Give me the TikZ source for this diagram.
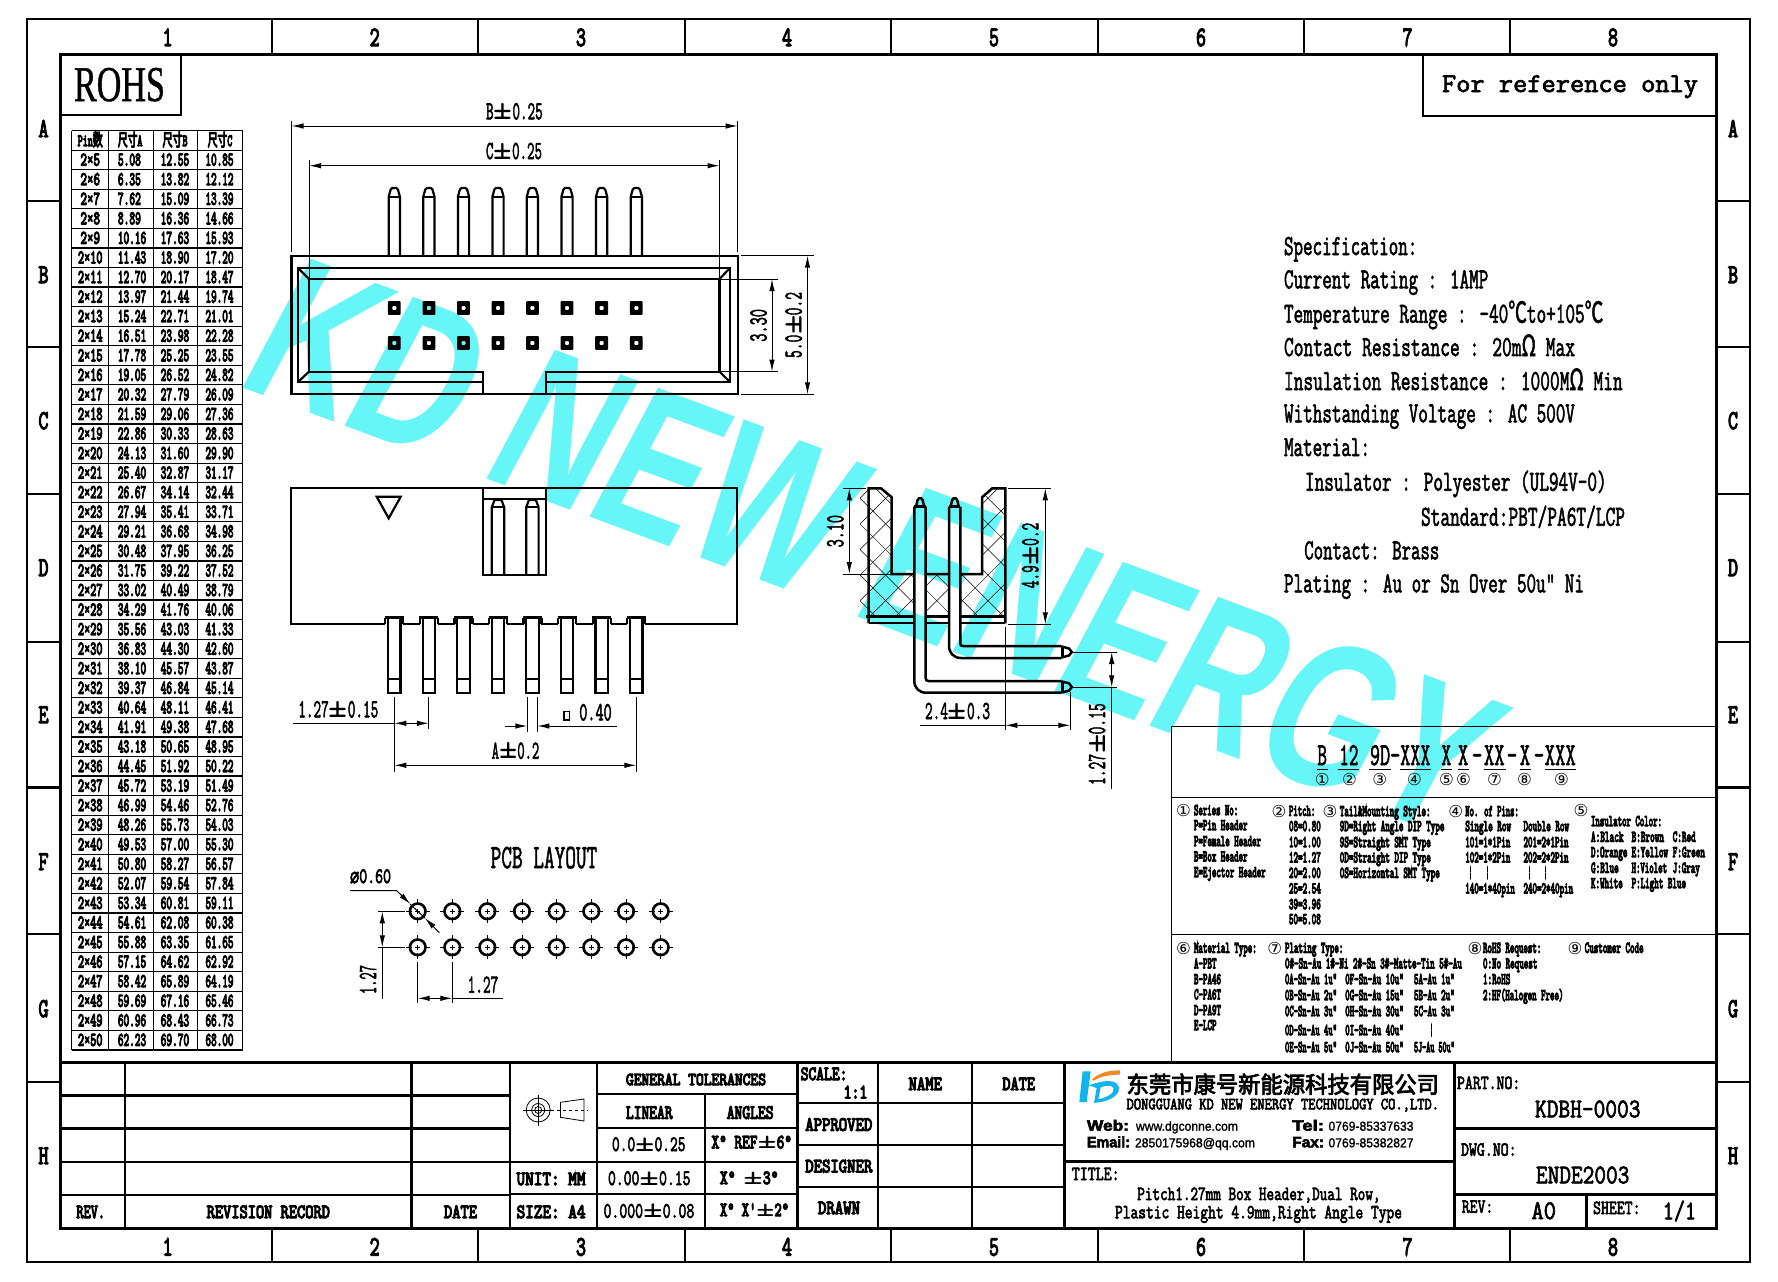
\documentclass[tikz,border=0pt]{standalone}
\usepackage{fontspec}
\usepackage{graphicx}
\usetikzlibrary{arrows.meta}
\newfontfamily\cad{Latin Modern Mono}
\newfontfamily\rom{Liberation Serif}
\newfontfamily\san{Liberation Sans}
\newfontfamily\dejavu{DejaVu Sans}
\newfontfamily\cjk{Noto Sans CJK SC}
\definecolor{wm}{HTML}{66F6F8}
\definecolor{logob}{HTML}{12B4F0}
\definecolor{logoo}{HTML}{F08A24}
\newcommand\PM{\special{pdf:code 0 Tr}\scalebox{2.5}[1.4]{±}\special{pdf:code 2 Tr}}
\newcount\tno
% rotation, x, y (baseline start), width, size, font, stroke, text
\newcommand{\Put}[8]{\global\advance\tno by 1\relax
  \node[txt,rotate=#1] (t\the\tno) at (#2,#3)
    {#6\fontsize{#5}{#5}\selectfont\resizebox{#4pt}{\height}{\special{pdf:code 2 Tr #7 w}#8}};}
\newcommand{\Tx}[5]{\Put{0}{#1}{#2}{#3}{#4}{\cad}{0.7}{#5}}
\newcommand{\Tb}[5]{\Put{0}{#1}{#2}{#3}{#4}{\cad}{1.3}{#5}}
\newcommand{\Ts}[5]{\Put{0}{#1}{#2}{#3}{#4}{\san\bfseries}{0.5}{#5}}
\newcommand{\Tn}[5]{\Put{0}{#1}{#2}{#3}{#4}{\san}{0.2}{#5}}
\newcommand{\Tr}[5]{\Put{90}{#1}{#2}{#3}{#4}{\cad}{0.7}{#5}}
\newcommand{\Cn}[3]{\global\advance\tno by 1\relax
  \node[inner sep=0pt] (t\the\tno) at (#1,#2) {\dejavu\fontsize{16.5}{16.5}\selectfont #3};}
\newcommand\fmt[1]{\number\numexpr(#1-50)/100\relax.\ifnum\numexpr #1-100*((#1-50)/100)\relax<10 0\fi\number\numexpr #1-100*((#1-50)/100)\relax}
\tikzset{
  txt/.style={anchor=base west,inner sep=0pt,outer sep=0pt},
  thk/.style={line width=3pt},
  med/.style={line width=2.2pt},
  thn/.style={line width=1.2pt},
  dim/.style={line width=1pt},
  dimb/.style={dim,{Latex[length=12pt,width=5.5pt]}-{Latex[length=12pt,width=5.5pt]}},
  dimr/.style={dim,-{Latex[length=12pt,width=5.5pt]}},
}
\def\pinxs{394.3,428.9,463.5,498,532.4,567,601.6,636.3}
\def\holexs{417.7,452.3,487.3,522,556.7,591.3,626,660.7}
\begin{document}
\begin{tikzpicture}[x=1pt,y=-1pt]
\useasboundingbox (0,0) rectangle (1778,1282);
\fill[white] (0,0) rectangle (1778,1282);
% watermark
\begin{scope}[cm={0.71,-0.265,0.497,0.936,(233.4,384)}]
\node[transform shape,txt,text=wm] (watermark) at (0,0) {\san\bfseries\fontsize{200}{200}\selectfont KD NEW ENERGY};
\end{scope}
% frames
\draw[line width=2.5pt] (27,19) rectangle (1750,1262);
\draw[thk] (60.5,54) rectangle (1716,1228);
\foreach \x in {272,478,685,891,1098,1304,1510} {
  \draw[med] (\x,19)--(\x,54);
  \draw[med] (\x,1228)--(\x,1262);
}
\foreach \y in {201,347,494,642,787.5,934,1082} {
  \draw[med] (27,\y)--(60.5,\y);
  \draw[med] (1716,\y)--(1750,\y);
}
\foreach \n/\x in {1/167.6,2/374.7,3/581,4/787,5/994,6/1201,7/1407.5,8/1613} {
  \Tb{\x-5}{46}{10}{28}{\n}
  \Tb{\x-5}{1255.5}{10}{28}{\n}
}
\foreach \c/\y in {A/129,B/275,C/421,D/568,E/715,F/862,G/1009,H/1156} {
  \Tb{38.5}{\y+8}{10}{27}{\c}
  \Tb{1728}{\y+8}{10}{27}{\c}
}
% ROHS and reference
\draw[med] (60.5,54) rectangle (181,115);
\Put{0}{74}{101}{91}{50}{\rom}{0.5}{ROHS}
\draw[med] (1423,54) rectangle (1716,116);
\Tx{1442}{92}{256}{27}{For reference only}
% pin table
\foreach \x in {71.6,108.7,153.5,197.5,242.6} \draw[thn] (\x,130.6)--(\x,1050);
\foreach \i in {0,...,47} \draw[thn] (71.6,{130.6+19.56*\i})--(242.6,{130.6+19.56*\i});
\Tb{77.7}{146}{25}{17}{Pin{\cjk 数}}
\Tb{117.9}{146}{24.5}{17}{{\cjk 尺寸}A}
\Tb{162.6}{146}{25}{17}{{\cjk 尺寸}B}
\Tb{207.8}{146}{24.5}{17}{{\cjk 尺寸}C}
\foreach \n [count=\i from 0] in {5,...,50} {
  \pgfmathsetmacro\yb{165.5+19.56*\i}
  \pgfmathtruncatemacro\aa{127*(\n-1)}
  \pgfmathtruncatemacro\bb{\aa+747}
  \pgfmathtruncatemacro\cc{\aa+577}
  \ifnum\n<10
    \Tb{80.5}{\yb}{19.5}{19}{2×\n}
  \else
    \Tb{78}{\yb}{24.5}{19}{2×\n}
  \fi
  \ifnum\aa<1000
    \Tb{117.9}{\yb}{23}{19}{\fmt{\aa}}
  \else
    \Tb{117.9}{\yb}{28.3}{19}{\fmt{\aa}}
  \fi
  \Tb{160.7}{\yb}{28.5}{19}{\fmt{\bb}}
  \Tb{205.5}{\yb}{28}{19}{\fmt{\cc}}
}
% top view
\draw[med] (291.5,255.7) rectangle (737.6,394.3);
\draw[med] (483,394.3)--(483,371.7)--(309,371.7)--(309,279)--(719.5,279)--(719.5,371.7)--(545.6,371.7)--(545.6,394.3);
\draw[med] (483,382)--(298,382)--(298,268)--(730,268)--(730,382)--(545.6,382);
\draw[med] (298,268)--(309,279) (730,268)--(719.5,279) (298,382)--(309,371.7) (730,382)--(719.5,371.7);
\foreach \c in \pinxs {
  \draw[med] (\c-5.6,255.7)--(\c-5.6,196.7)--(\c-3.6,189.5)--(\c-2,188)--(\c+2,188)--(\c+3.6,189.5)--(\c+5.6,196.7)--(\c+5.6,255.7);
  \draw[med] (\c-5.6,197)--(\c+5.6,197);
  \foreach \yy in {308,343}
    \fill[even odd rule,rounded corners=0.8pt] (\c-6.4,\yy-6.8) rectangle (\c+6.4,\yy+6.8) (\c-2,\yy-2) rectangle (\c+2,\yy+2);
}
% top view dimensions
\draw[dimb] (291.5,126)--(737.6,126);
\draw[dim] (291.5,121)--(291.5,252) (737.6,121)--(737.6,252);
\draw[dimb] (309,165.7)--(719.5,165.7);
\draw[dim] (309,160)--(309,280) (719.5,160)--(719.5,280);
\Tx{486}{119.3}{56.7}{26}{B\PM0.25}
\Tx{486}{159}{56}{26}{C\PM0.25}
\draw[dim] (719.5,279)--(777.6,279) (719.5,371.7)--(777.6,371.7);
\draw[dimb] (772,279)--(772,371.7);
\draw[dim] (740.6,255.7)--(814,255.7) (740.6,394.3)--(814,394.3);
\draw[dimb] (807.5,255.7)--(807.5,394.3);
\Tr{766.5}{341.7}{32.7}{26}{3.30}
\Tr{801.6}{358}{66}{26}{5.0\PM0.2}
% front view
\draw[med] (645.3,623.7)--(737.3,623.7)--(737.3,488.3)--(291,488.3)--(291,623.7)--(385.3,623.7);
\foreach \c in {394.3,428.9,463.5,498,532.4,567,601.6} {
  \draw[med] (\c+9,623.7)--(\c+25.6,623.7);
}
\foreach \c in \pinxs {
  \draw[med] (\c-9,623.7)--(\c-9,617.6);
  \draw[med] (\c+9,623.7)--(\c+9,617.6);
  \draw[line width=3pt] (\c-9.5,617.7)--(\c+9.5,617.7);
  \draw[med] (\c-6.2,617)--(\c-6.2,692.7)--(\c+6.2,692.7)--(\c+6.2,617);
  \draw[thn] (\c-6.2,679)--(\c+6.2,679);
}
\draw[med] (376.7,496.7)--(400.7,496.7)--(388.7,518.3)--cycle;
\draw[med] (483,488.3)--(483,575)--(546.3,575)--(546.3,488.3);
\draw[med] (483,499.3)--(546.3,499.3);
\foreach \c in {498,532.4} {
  \draw[med] (\c-6.2,575)--(\c-6.2,507.3)--(\c-3.5,500)--(\c+3.5,500)--(\c+6.2,507.3)--(\c+6.2,575);
  \draw[med] (\c-6.2,507.3)--(\c+6.2,507.3);
}
% front view dimensions
\draw[dim] (394.3,696.7)--(394.3,771.7) (428.9,696.7)--(428.9,729);
\draw[dim] (293.3,723.3)--(394.3,723.3);
\draw[dimb] (394.3,723.3)--(428.9,723.3);
\Tx{298.3}{717.3}{80}{26}{1.27\PM0.15}
\draw[dim] (527.3,696.7)--(527.3,731.7) (537.3,696.7)--(537.3,731.7);
\draw[dimr] (505,726)--(527.3,726);
\draw[dimr] (616.7,726)--(537.3,726);
\draw[line width=1.5pt] (564,711.7) rectangle (569.3,720);
\Tx{579.3}{720.3}{32.4}{26}{0.40}
\draw[dimb] (394.3,765.3)--(636.3,765.3);
\draw[dim] (636.3,696.7)--(636.3,771.7);
\Tx{491.7}{758.7}{47.6}{26}{A\PM0.2}
% PCB layout
\Tx{490.7}{868}{106.6}{34}{PCB LAYOUT}
\foreach \c [count=\j] in \holexs {
  \foreach \yy in {911.3,947.3} {
    \draw[line width=2.6pt] (\c,\yy) circle (7.8);
    \draw[line width=0.8pt] (\c-12,\yy)--(\c-6,\yy) (\c+6,\yy)--(\c+12,\yy) (\c,\yy-12)--(\c,\yy-6) (\c,\yy+6)--(\c,\yy+12);
    \draw[line width=0.6pt] (\c-2.5,\yy)--(\c+2.5,\yy) (\c,\yy-2.5)--(\c,\yy+2.5);
  }
}
\Put{0}{350}{883}{41}{22}{\cad}{0.8}{{\dejavu ⌀}0.60}
\draw[dimr] (350,890.7)--(396.7,890.7)--(410.3,904);
\draw[dim] (410,904)--(425,918);
\draw[dimr] (439.3,932.7)--(425,918);
\draw[dim] (377.7,911.3)--(405,911.3) (377.7,947.3)--(405,947.3);
\draw[dim] (382.3,947.3)--(382.3,999.3);
\draw[dimb] (382.3,911.3)--(382.3,947.3);
\Tr{376}{994}{29}{26}{1.27}
\draw[dim] (417.7,962.3)--(417.7,1003.3) (452.3,962.3)--(452.3,1003.3);
\draw[dimb] (417.7,998.3)--(452.3,998.3);
\draw[dim] (452.3,998.3)--(503.3,998.3);
\Tx{467.7}{992.7}{30.6}{26}{1.27}
% side view hatch
\begin{scope}
\clip (860,488.3)--(881,488.3)--(891.7,497.3)--(891.7,574)--(914.3,574)--(914.3,616.7)--(860,616.7)--cycle;
\foreach \k in {-8,...,12} \draw[line width=0.5pt] (860,498.3+25.6*\k)--++(200,200) (860,498.3+25.6*\k)--++(200,-200);
\end{scope}
\begin{scope}
\clip (925.7,574) rectangle (949,616.7);
\foreach \k in {-8,...,12} \draw[line width=0.5pt] (860,498.3+25.6*\k)--++(200,200) (860,498.3+25.6*\k)--++(200,-200);
\end{scope}
\begin{scope}
\clip (960.3,574)--(982,574)--(982,497.3)--(992.3,488.3)--(1005.3,488.3)--(1005.3,616.7)--(960.3,616.7)--cycle;
\foreach \k in {-8,...,12} \draw[line width=0.5pt] (860,498.3+25.6*\k)--++(200,200) (860,498.3+25.6*\k)--++(200,-200);
\end{scope}
% side view housing
\draw[line width=2.5pt] (868.7,623.3)--(868.7,488.3)--(881,488.3)--(891.7,497.3)--(891.7,574)--(914.3,574);
\draw[line width=2.5pt] (925.7,574)--(949,574) (960.3,574)--(982,574)--(982,497.3)--(992.3,488.3)--(1005.3,488.3)--(1005.3,623.3);
\draw[line width=2.5pt] (866,616.7)--(914.3,616.7) (925.7,616.7)--(949,616.7) (960.3,616.7)--(1005.3,616.7);
\draw[line width=2pt] (868.7,623.3)--(914.3,623.3) (925.7,623.3)--(949,623.3) (960.3,623.3)--(1005.3,623.3);
% side view pins
\draw[line width=2.5pt] (914.3,506.7)--(914.3,680.7) .. controls (914.3,688) and (919,692.7) .. (926.3,692.7)--(1061.7,692.7);
\draw[line width=2.5pt] (925.7,506.7)--(925.7,678) .. controls (925.7,680) and (926.5,681) .. (928.5,681)--(1061.7,681);
\draw[line width=2.5pt] (914.3,506.7)--(925.7,506.7);
\draw[line width=2.5pt] (916,506.7)--(917.6,500)--(919,498.3)--(921.2,498.3)--(922.6,500)--(924.2,506.7);
\draw[line width=2.5pt] (949,506.7)--(949,645.7) .. controls (949,653) and (953.7,658) .. (961,658)--(1061.7,658);
\draw[line width=2.5pt] (960.3,506.7)--(960.3,643.5) .. controls (960.3,645) and (961,646) .. (963,646)--(1061.7,646);
\draw[line width=2.5pt] (949,506.7)--(960.3,506.7);
\draw[line width=2.5pt] (950.6,506.7)--(952.2,500)--(953.6,498.3)--(955.8,498.3)--(957.2,500)--(958.8,506.7);
\draw[line width=2.5pt] (1062.5,646)--(1062.5,658);
\draw[line width=2.5pt] (1061.7,646.5)--(1069,648.5)--(1071.8,652)--(1069,655.5)--(1061.7,657.5);
\draw[line width=2.5pt] (1062.5,681)--(1062.5,692.7);
\draw[line width=2.5pt] (1061.7,681.5)--(1069,683.3)--(1071.8,687)--(1069,690.7)--(1061.7,692.5);
% side view dimensions
\draw[dim] (843,488.3)--(866,488.3) (843,574)--(891,574);
\draw[dimb] (849.3,488.3)--(849.3,574);
\Tr{843.3}{547.3}{32.3}{26}{3.10}
\draw[dim] (1008,488.3)--(1050.7,488.3) (1008,624.3)--(1050.7,624.3);
\draw[dimb] (1045.3,488.3)--(1045.3,624.3);
\Tr{1038.3}{588.3}{65.6}{26}{4.9\PM0.2}
\draw[dim] (1005.3,626.7)--(1005.3,730) (1070.3,691.7)--(1070.3,730);
\draw[dim] (920,725.3)--(1005.3,725.3);
\draw[dimb] (1005.3,725.3)--(1070.3,725.3);
\Tx{925}{719}{65}{26}{2.4\PM0.3}
\draw[dim] (1073.3,652)--(1116.7,652) (1073.3,687.3)--(1116.7,687.3);
\draw[dimb] (1111.7,652)--(1111.7,687.3);
\draw[dim] (1111.7,687.3)--(1111.7,789.3);
\Tr{1105}{785}{81.7}{26}{1.27\PM0.15}
% specification
\Tx{1284}{255}{133.3}{29}{Specification:}
\Tx{1284}{288.3}{204.3}{29}{Current Rating : 1AMP}
\Tx{1284}{322.7}{319.3}{29}{Temperature Range : -40{\cjk ℃}to+105{\cjk ℃}}
\Tx{1284}{356}{291}{29}{Contact Resistance : 20m{\cjk Ω} Max}
\Tx{1284}{390}{338.7}{29}{Insulation Resistance : 1000M{\cjk Ω} Min}
\Tx{1284}{422.3}{291}{29}{Withstanding Voltage : AC 500V}
\Tx{1284}{456}{86}{29}{Material:}
\Tx{1305}{490.7}{301.7}{29}{Insulator : Polyester (UL94V-0)}
\Tx{1421}{525.7}{204}{29}{Standard:PBT/PA6T/LCP}
\Tx{1304.3}{559.3}{135}{29}{Contact: Brass}
\Tx{1284}{592.3}{300}{29}{Plating : Au or Sn Over 50u" Ni}
% ordering panel
\draw[thn] (1716,726.7)--(1171.5,726.7)--(1171.5,1062);
\draw[thn] (1171.5,797.3)--(1716,797.3) (1171.5,934.3)--(1716,934.3);
\Tx{1317.3}{765}{9.7}{32}{B}
\Tx{1339.4}{765}{19}{32}{12}
\Tx{1370}{765}{60.5}{32}{9D-XXX}
\Tx{1441.3}{765}{10}{32}{X}
\Tx{1458}{765}{117.8}{32}{X\kern5.8pt-\kern2.6pt XX\kern3.5pt-\kern4.2pt X\kern5.8pt-\kern1pt XXX}
\foreach \a/\b in {1316.5/1327.8,1338/1358.8,1369/1391,1399.8/1430.5,1441/1451.5,1457.5/1468.5,1484/1505.5,1519.5/1531,1545/1576}
  \draw[line width=0.9pt] (\a,769)--(\b,769);
\Cn{1322.3}{779.5}{①}\Cn{1349.5}{779.5}{②}\Cn{1379.7}{779.5}{③}\Cn{1414.6}{779.5}{④}\Cn{1446.4}{779.5}{⑤}\Cn{1463.4}{779.5}{⑥}\Cn{1494.4}{779.5}{⑦}\Cn{1524.6}{779.5}{⑧}\Cn{1561.5}{779.5}{⑨}
% column 3
\Cn{1330}{811}{③}
\Tb{1339.8}{816}{90.7}{16}{Tail\&Mounting Style:}
\Tb{1339.8}{831}{104.6}{16}{9D=Right Angle DIP Type}
\Tb{1339.8}{847}{91}{16}{9S=Straight SMT Type}
\Tb{1339.8}{862.3}{91}{16}{0D=Straight DIP Type}
\Tb{1339.8}{877.7}{100}{16}{0S=Horizontal SMT Type}
% column 4
\Cn{1455.7}{811}{④}
\Tb{1465.3}{816}{53.5}{16}{No. of Pins:}
\Tb{1465.3}{831}{45.7}{16}{Single Row}
\Tb{1523.5}{831}{45.5}{16}{Double Row}
\Tb{1465.3}{847}{45}{16}{101=1*1Pin}
\Tb{1523.5}{847}{45}{16}{201=2*1Pin}
\Tb{1465.3}{862.3}{45}{16}{102=1*2Pin}
\Tb{1523.5}{862.3}{45}{16}{202=2*2Pin}
\Tb{1469}{877.7}{3}{16}{¦}
\Tb{1486}{877.7}{3}{16}{¦}
\Tb{1528}{877.7}{3}{16}{¦}
\Tb{1544}{877.7}{3}{16}{¦}
\Tb{1465.3}{893.3}{49.6}{16}{140=1*40pin}
\Tb{1523.5}{893.3}{49.6}{16}{240=2*40pin}
% column 5
\Cn{1580.9}{810.7}{⑤}
\Tb{1591}{826}{71}{16}{Insulator Color:}
\Tb{1591}{841.7}{32.5}{16}{A:Black}
\Tb{1631.6}{841.7}{32.4}{16}{B:Brown}
\Tb{1672.7}{841.7}{23}{16}{C:Red}
\Tb{1591}{857}{36.4}{16}{D:Orange}
\Tb{1631.6}{857}{36.4}{16}{E:Yellow}
\Tb{1672.7}{857}{32.3}{16}{F:Green}
\Tb{1591}{872.7}{27.7}{16}{G:Blue}
\Tb{1631.6}{872.7}{35.4}{16}{H:Violet}
\Tb{1672.7}{872.7}{27.1}{16}{J:Gray}
\Tb{1591}{888}{31.7}{16}{K:White}
\Tb{1631.6}{888}{54.4}{16}{P:Light Blue}
% column 1
\Cn{1183.5}{810}{①}
\Tb{1194}{815}{44.2}{16}{Series No:}
\Tb{1194}{830}{53.5}{16}{P=Pin Header}
\Tb{1194}{846}{67}{16}{P=Female Header}
\Tb{1194}{861.3}{53.5}{16}{B=Box Header}
\Tb{1194}{877}{71.7}{16}{E=Ejector Header}
% column 2
\Cn{1279}{811}{②}
\Tb{1289}{815.7}{26.3}{16}{Pitch:}
\Tb{1289}{831}{31.8}{16}{08=0.80}
\Tb{1289}{847}{31.8}{16}{10=1.00}
\Tb{1289}{862.3}{31.8}{16}{12=1.27}
\Tb{1289}{877.7}{31.8}{16}{20=2.00}
\Tb{1289}{893.3}{31.8}{16}{25=2.54}
\Tb{1289}{909}{31.8}{16}{39=3.96}
\Tb{1289}{924}{31.8}{16}{50=5.08}
% row 2
\Cn{1183.5}{948}{⑥}
\Tb{1194}{952.7}{62.8}{16}{Material Type:}
\Tb{1194}{968.3}{22.5}{16}{A-PBT}
\Tb{1194}{984}{27}{16}{B-PA46}
\Tb{1194}{999.3}{27}{16}{C-PA6T}
\Tb{1194}{1015}{27}{16}{D-PA9T}
\Tb{1194}{1030}{22.5}{16}{E-LCP}
\Cn{1274.7}{948}{⑦}
\Tb{1285}{952.7}{58.3}{16}{Plating Type:}
\Tb{1285}{968.3}{176.9}{16}{0\#-Sn-Au 1\#-Ni 2\#-Sn 3\#-Matte-Tin 5\#-Au}
\Tb{1285}{984}{52}{16}{0A-Sn-Au 1u"}
\Tb{1345.2}{984}{58.5}{16}{0F-Sn-Au 10u"}
\Tb{1414}{984}{40.7}{16}{5A-Au 1u"}
\Tb{1285}{1000}{52}{16}{0B-Sn-Au 2u"}
\Tb{1345.2}{1000}{58.5}{16}{0G-Sn-Au 15u"}
\Tb{1414}{1000}{40.7}{16}{5B-Au 2u"}
\Tb{1285}{1016}{52}{16}{0C-Sn-Au 3u"}
\Tb{1345.2}{1016}{58.5}{16}{0H-Sn-Au 30u"}
\Tb{1414}{1016}{40.7}{16}{5C-Au 3u"}
\Tb{1285}{1035}{52}{16}{0D-Sn-Au 4u"}
\Tb{1345.2}{1035}{58.5}{16}{0I-Sn-Au 40u"}
\Tb{1430}{1035}{3}{16}{¦}
\Tb{1285}{1052}{52}{16}{0E-Sn-Au 5u"}
\Tb{1345.2}{1052}{58.5}{16}{0J-Sn-Au 50u"}
\Tb{1414}{1052}{40.7}{16}{5J-Au 50u"}
\Cn{1475}{948}{⑧}
\Tb{1483}{952.7}{58.3}{16}{RoHS Request:}
\Tb{1483}{968.3}{54.4}{16}{0:No Request}
\Tb{1483}{984}{27.3}{16}{1:RoHS}
\Tb{1483}{1000}{80.4}{16}{2:HF(Halogen Free)}
\Cn{1575}{948}{⑨}
\Tb{1584.7}{952.7}{58.9}{16}{Customer Code}
% title block: revision table
\draw[thk] (60.5,1062)--(1716,1062);
\draw[med] (125,1062)--(125,1228) (411.4,1062)--(411.4,1228) (509.8,1062)--(509.8,1228);
\draw[thk] (60.5,1095)--(509.8,1095) (60.5,1128.5)--(509.8,1128.5);
\draw[med] (60.5,1162)--(509.8,1162) (60.5,1195.3)--(509.8,1195.3);
\Tb{76.5}{1218}{28.5}{20}{REV.}
\Tb{206.7}{1218}{123.2}{20}{REVISION RECORD}
\Tb{444}{1218}{33}{20}{DATE}
\draw[med] (596.7,1062)--(596.7,1228);
\draw[med] (509.8,1161.7)--(797,1161.7) (509.8,1194.3)--(797,1194.3);
\draw[med] (596.7,1094.3)--(797,1094.3) (596.7,1128.3)--(797,1128.3);
\draw[med] (705,1094.3)--(705,1228);
\draw[thk] (797,1062)--(797,1228);
% third angle symbol
\draw[line width=0.8pt] (538.2,1110) circle (12) (538.2,1110) circle (6.5) (538.2,1110) circle (3.5);
\draw[line width=0.8pt] (522.5,1110)--(553.5,1110) (538.2,1094.5)--(538.2,1125.5);
\draw[line width=0.8pt] (560.4,1102.3)--(584,1099)--(584,1121)--(560.4,1117.3)--cycle;
\draw[line width=0.8pt,dashed] (556.5,1110)--(587,1110);
\Tb{516.6}{1185}{68.9}{20}{UNIT: MM}
\Tb{516.6}{1218}{68.9}{20}{SIZE: A4}
\Tb{626}{1085}{140}{18}{GENERAL TOLERANCES}
\Tb{626}{1118.7}{46.5}{20}{LINEAR}
\Tb{726.8}{1118.7}{46.7}{20}{ANGLES}
\Tx{612}{1151}{73.5}{22}{0.0\PM0.25}
\Tb{711.5}{1148.3}{80.5}{20}{X° REF\PM6°}
\Tx{608}{1185}{82.5}{22}{0.00\PM0.15}
\Tb{720}{1184}{58.5}{20}{X° \PM3°}
\Tx{603.6}{1217.7}{90.7}{22}{0.000\PM0.08}
\Tb{720}{1216}{69}{20}{X° X'\PM2°}
% approval
\draw[med] (878,1062)--(878,1228) (972,1062)--(972,1228);
\draw[med] (797,1103.3)--(1064.4,1103.3) (797,1145)--(1064.4,1145) (797,1186.7)--(1064.4,1186.7);
\draw[thk] (1064.7,1062)--(1064.7,1228);
\Tb{800.7}{1080}{46.7}{20}{SCALE:}
\Tb{843.6}{1098.3}{23.7}{20}{1:1}
\Tb{908.6}{1090}{33.4}{20}{NAME}
\Tb{1002.4}{1090}{32.6}{20}{DATE}
\Tb{805.3}{1130.7}{67}{20}{APPROVED}
\Tb{805.3}{1172.3}{67}{20}{DESIGNER}
\Tb{818}{1214}{42}{20}{DRAWN}
% company
\draw[thk] (1454.8,1062)--(1454.8,1228);
\draw[thk] (1064.7,1161.7)--(1454.8,1161.7);
\draw[thk] (1454.8,1128.3)--(1716,1128.3) (1454.8,1194.3)--(1716,1194.3);
\draw[thk] (1586,1194.3)--(1586,1228);
\begin{scope}[shift={(1070,1062)},x=0.3333pt,y=-0.3333pt]
\fill[logob] (38,28)--(62,28)--(50,120)--(28,120)--cycle;
\fill[logoo] (66,52) .. controls (90,30) and (120,25) .. (150,25)--(150,38) .. controls (120,38) and (95,42) .. (72,56)--cycle;
\fill[logob,even odd rule] (56,70) .. controls (85,60) and (110,55) .. (125,58) .. controls (150,63) and (155,85) .. (135,102) .. controls (115,118) and (95,120) .. (72,123)--(80,78)--cycle
 (92,76)--(85,112) .. controls (115,105) and (135,92) .. (130,78) .. controls (124,68) and (108,70) .. (92,76)--cycle;
\end{scope}
\Put{0}{1126.6}{1093}{312.4}{23}{\cjk}{0.8}{东莞市康号新能源科技有限公司}
\Tx{1126.6}{1109.3}{312.4}{17}{DONGGUANG KD NEW ENERGY TECHNOLOGY CO.,LTD.}
\Ts{1087}{1130.7}{42}{15}{Web:}
\Tn{1136}{1130.7}{102}{13}{www.dgconne.com}
\Ts{1292.3}{1130.7}{31.7}{15}{Tel:}
\Tn{1328.5}{1130.7}{85}{13}{0769-85337633}
\Ts{1087}{1147.3}{43}{15}{Email:}
\Tn{1135}{1147.3}{120}{13}{2850175968@qq.com}
\Ts{1292.3}{1147.3}{31.7}{15}{Fax:}
\Tn{1328.5}{1147.3}{85}{13}{0769-85382827}
\Tx{1071.8}{1180}{47.8}{20}{TITLE:}
\Tx{1137.3}{1200}{243.2}{20}{Pitch1.27mm Box Header,Dual Row,}
\Tx{1115}{1218.3}{287}{20}{Plastic Height 4.9mm,Right Angle Type}
\Tx{1457}{1089}{63.3}{20}{PART.NO:}
\Tx{1535}{1117.3}{105.5}{27}{KDBH-0003}
\Tx{1461}{1155.7}{55.6}{20}{DWG.NO:}
\Tx{1536}{1183.3}{93.4}{27}{ENDE2003}
\Tx{1461.8}{1212.7}{31.5}{20}{REV:}
\Tx{1531.4}{1219}{24.6}{27}{A0}
\Tx{1593}{1214}{47.5}{20}{SHEET:}
\Tx{1662.8}{1219.3}{33.2}{27}{1/1}
\end{tikzpicture}
\end{document}
